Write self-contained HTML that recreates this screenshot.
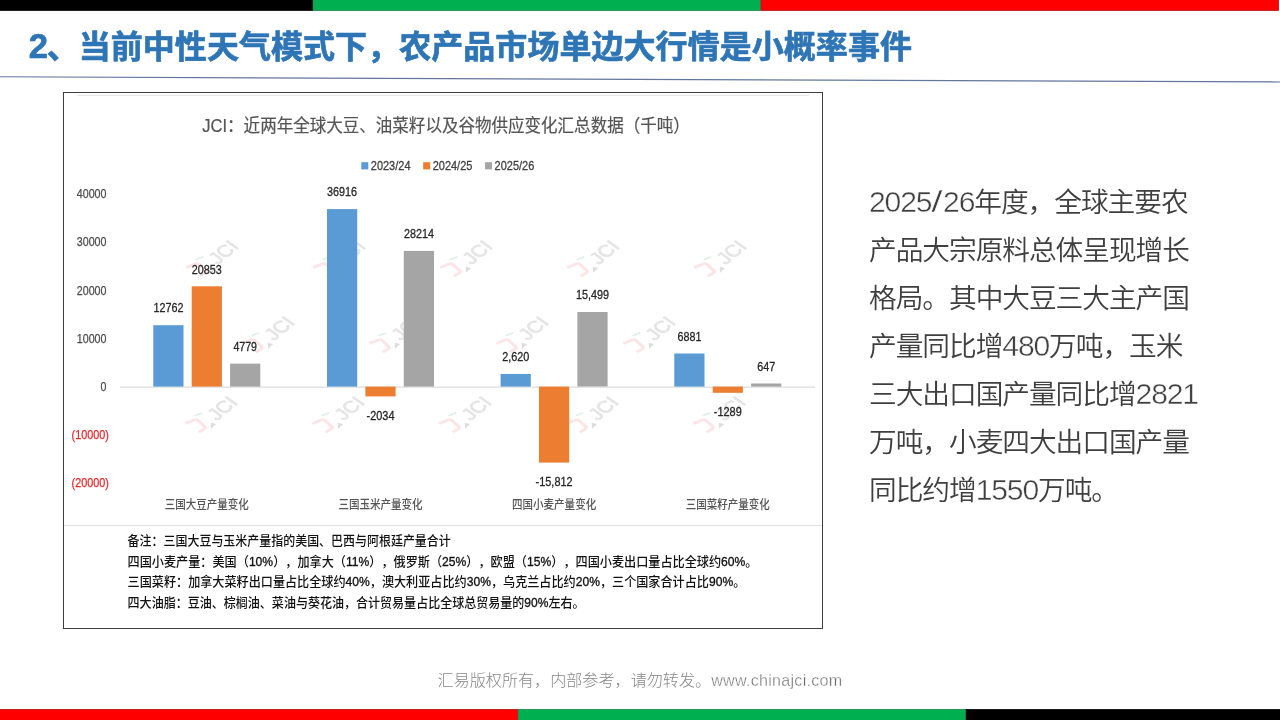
<!DOCTYPE html>
<html lang="zh-CN">
<head>
<meta charset="utf-8">
<title>2、当前中性天气模式下，农产品市场单边大行情是小概率事件</title>
<style>
*{margin:0;padding:0;box-sizing:border-box}
html,body{width:1280px;height:720px;overflow:hidden;background:#fff}
body{position:relative;font-family:"Liberation Sans","Noto Sans CJK SC",sans-serif;color:#404040}
h1{position:absolute;left:28.8px;top:23.2px;-webkit-text-stroke:0.7px #2e75b6;height:48px;line-height:48px;font-size:32px;font-weight:bold;color:#2e75b6;white-space:nowrap;letter-spacing:0.05px}
h1 span{font-size:34.6px;letter-spacing:-1.4px;line-height:0}
#rule{position:absolute;left:0;top:0;width:1280px;height:720px}
#chart{position:absolute;left:63px;top:92px;width:760px;height:537px;border:1px solid #3f3f3f;background:#fff}
#chart svg{position:absolute;left:-1px;top:-1px}
#chart text{text-spacing-trim:space-all;white-space:pre}
#body{font-weight:350;position:absolute;left:869px;top:179.4px;width:400px;font-size:27.7px;letter-spacing:-1.03px;line-height:48px;color:#3f3f3f}
#body p{white-space:nowrap;height:48px}
#body .n,#body .sl{color:#3f3f3f;-webkit-text-stroke:0.45px #fff}
#body .n{font-size:30.1px;letter-spacing:-1.14px;line-height:0}
#body .sl{display:inline-block;width:11.7px;text-align:center;font-size:30.1px;letter-spacing:0;line-height:0;transform:scaleX(1.35)}
#foot{position:absolute;left:0;top:669.2px;width:1280px;text-align:center;font-size:16.1px;line-height:22px;color:#888;font-weight:300;white-space:nowrap}
#foot span{letter-spacing:0.27px;color:#6c6c6c;-webkit-text-stroke:0.35px #fff}
</style>
</head>
<body>
<h1><span>2</span>、当前中性天气模式下，农产品市场单边大行情是小概率事件</h1>
<svg id="rule" width="1280" height="720" viewBox="0 0 1280 720">
<rect x="-2" y="-2" width="314.8" height="12.4" fill="#000" stroke="#000" stroke-width="0.8"/>
<rect x="313.2" y="-2" width="447.2" height="12.4" fill="#00b050" stroke="#14854a" stroke-width="0.8"/>
<rect x="761" y="-2" width="517.5" height="12.4" fill="#ff0000" stroke="#c00a0a" stroke-width="0.8"/>
<line x1="0" y1="76.75" x2="1280" y2="82.0" stroke="#64769c" stroke-width="1.2"/>
<rect x="-2" y="709.5" width="519.8" height="13" fill="#ff0000" stroke="#c00a0a" stroke-width="0.8"/>
<rect x="518.4" y="709.5" width="447.4" height="13" fill="#00b050" stroke="#14854a" stroke-width="0.8"/>
<rect x="966.2" y="709.5" width="316" height="13" fill="#000" stroke="#000" stroke-width="0.8"/>
</svg>
<div id="chart">
<svg width="760" height="537" viewBox="63 92 760 537" font-family='"Liberation Sans","Noto Sans CJK SC",sans-serif'>
<!--CHART-->
<line x1="77" y1="95.4" x2="809" y2="95.4" stroke="#e6e6e6" stroke-width="1"/>
<g transform="translate(212.0 259.0) scale(1.15 0.87) rotate(-47)"><path d="M-22.6 -9.6 L-14.2 -6.8 Q-12 -6 -12.3 -3.8 L-13.3 4.4 Q-13.6 6.8 -15.8 6.6 L-21.8 5.8" fill="none" stroke="#fce5e7" stroke-width="3.1" stroke-linejoin="round"/><path d="M-10.2 -9.8 L-3.2 -7.4" stroke="#dff2e8" stroke-width="2"/><path d="M-11.5 10.8 L-4.6 10.4 L-6.6 5.8 z" fill="#dddddd"/><text x="-1.9" y="8.5" font-size="19" fill="#e5e5e5" stroke="#e5e5e5" stroke-width="0.7">JCI</text></g>
<g transform="translate(339.0 259.0) scale(1.15 0.87) rotate(-47)"><path d="M-22.6 -9.6 L-14.2 -6.8 Q-12 -6 -12.3 -3.8 L-13.3 4.4 Q-13.6 6.8 -15.8 6.6 L-21.8 5.8" fill="none" stroke="#fce5e7" stroke-width="3.1" stroke-linejoin="round"/><path d="M-10.2 -9.8 L-3.2 -7.4" stroke="#dff2e8" stroke-width="2"/><path d="M-11.5 10.8 L-4.6 10.4 L-6.6 5.8 z" fill="#dddddd"/><text x="-1.9" y="8.5" font-size="19" fill="#e5e5e5" stroke="#e5e5e5" stroke-width="0.7">JCI</text></g>
<g transform="translate(466.0 259.0) scale(1.15 0.87) rotate(-47)"><path d="M-22.6 -9.6 L-14.2 -6.8 Q-12 -6 -12.3 -3.8 L-13.3 4.4 Q-13.6 6.8 -15.8 6.6 L-21.8 5.8" fill="none" stroke="#fce5e7" stroke-width="3.1" stroke-linejoin="round"/><path d="M-10.2 -9.8 L-3.2 -7.4" stroke="#dff2e8" stroke-width="2"/><path d="M-11.5 10.8 L-4.6 10.4 L-6.6 5.8 z" fill="#dddddd"/><text x="-1.9" y="8.5" font-size="19" fill="#e5e5e5" stroke="#e5e5e5" stroke-width="0.7">JCI</text></g>
<g transform="translate(593.0 259.0) scale(1.15 0.87) rotate(-47)"><path d="M-22.6 -9.6 L-14.2 -6.8 Q-12 -6 -12.3 -3.8 L-13.3 4.4 Q-13.6 6.8 -15.8 6.6 L-21.8 5.8" fill="none" stroke="#fce5e7" stroke-width="3.1" stroke-linejoin="round"/><path d="M-10.2 -9.8 L-3.2 -7.4" stroke="#dff2e8" stroke-width="2"/><path d="M-11.5 10.8 L-4.6 10.4 L-6.6 5.8 z" fill="#dddddd"/><text x="-1.9" y="8.5" font-size="19" fill="#e5e5e5" stroke="#e5e5e5" stroke-width="0.7">JCI</text></g>
<g transform="translate(720.0 259.0) scale(1.15 0.87) rotate(-47)"><path d="M-22.6 -9.6 L-14.2 -6.8 Q-12 -6 -12.3 -3.8 L-13.3 4.4 Q-13.6 6.8 -15.8 6.6 L-21.8 5.8" fill="none" stroke="#fce5e7" stroke-width="3.1" stroke-linejoin="round"/><path d="M-10.2 -9.8 L-3.2 -7.4" stroke="#dff2e8" stroke-width="2"/><path d="M-11.5 10.8 L-4.6 10.4 L-6.6 5.8 z" fill="#dddddd"/><text x="-1.9" y="8.5" font-size="19" fill="#e5e5e5" stroke="#e5e5e5" stroke-width="0.7">JCI</text></g>
<g transform="translate(268.0 335.0) scale(1.15 0.87) rotate(-47)"><path d="M-22.6 -9.6 L-14.2 -6.8 Q-12 -6 -12.3 -3.8 L-13.3 4.4 Q-13.6 6.8 -15.8 6.6 L-21.8 5.8" fill="none" stroke="#fce5e7" stroke-width="3.1" stroke-linejoin="round"/><path d="M-10.2 -9.8 L-3.2 -7.4" stroke="#dff2e8" stroke-width="2"/><path d="M-11.5 10.8 L-4.6 10.4 L-6.6 5.8 z" fill="#dddddd"/><text x="-1.9" y="8.5" font-size="19" fill="#e5e5e5" stroke="#e5e5e5" stroke-width="0.7">JCI</text></g>
<g transform="translate(395.0 335.0) scale(1.15 0.87) rotate(-47)"><path d="M-22.6 -9.6 L-14.2 -6.8 Q-12 -6 -12.3 -3.8 L-13.3 4.4 Q-13.6 6.8 -15.8 6.6 L-21.8 5.8" fill="none" stroke="#fce5e7" stroke-width="3.1" stroke-linejoin="round"/><path d="M-10.2 -9.8 L-3.2 -7.4" stroke="#dff2e8" stroke-width="2"/><path d="M-11.5 10.8 L-4.6 10.4 L-6.6 5.8 z" fill="#dddddd"/><text x="-1.9" y="8.5" font-size="19" fill="#e5e5e5" stroke="#e5e5e5" stroke-width="0.7">JCI</text></g>
<g transform="translate(522.0 335.0) scale(1.15 0.87) rotate(-47)"><path d="M-22.6 -9.6 L-14.2 -6.8 Q-12 -6 -12.3 -3.8 L-13.3 4.4 Q-13.6 6.8 -15.8 6.6 L-21.8 5.8" fill="none" stroke="#fce5e7" stroke-width="3.1" stroke-linejoin="round"/><path d="M-10.2 -9.8 L-3.2 -7.4" stroke="#dff2e8" stroke-width="2"/><path d="M-11.5 10.8 L-4.6 10.4 L-6.6 5.8 z" fill="#dddddd"/><text x="-1.9" y="8.5" font-size="19" fill="#e5e5e5" stroke="#e5e5e5" stroke-width="0.7">JCI</text></g>
<g transform="translate(649.0 335.0) scale(1.15 0.87) rotate(-47)"><path d="M-22.6 -9.6 L-14.2 -6.8 Q-12 -6 -12.3 -3.8 L-13.3 4.4 Q-13.6 6.8 -15.8 6.6 L-21.8 5.8" fill="none" stroke="#fce5e7" stroke-width="3.1" stroke-linejoin="round"/><path d="M-10.2 -9.8 L-3.2 -7.4" stroke="#dff2e8" stroke-width="2"/><path d="M-11.5 10.8 L-4.6 10.4 L-6.6 5.8 z" fill="#dddddd"/><text x="-1.9" y="8.5" font-size="19" fill="#e5e5e5" stroke="#e5e5e5" stroke-width="0.7">JCI</text></g>
<g transform="translate(211.0 415.0) scale(1.15 0.87) rotate(-47)"><path d="M-22.6 -9.6 L-14.2 -6.8 Q-12 -6 -12.3 -3.8 L-13.3 4.4 Q-13.6 6.8 -15.8 6.6 L-21.8 5.8" fill="none" stroke="#fce5e7" stroke-width="3.1" stroke-linejoin="round"/><path d="M-10.2 -9.8 L-3.2 -7.4" stroke="#dff2e8" stroke-width="2"/><path d="M-11.5 10.8 L-4.6 10.4 L-6.6 5.8 z" fill="#dddddd"/><text x="-1.9" y="8.5" font-size="19" fill="#e5e5e5" stroke="#e5e5e5" stroke-width="0.7">JCI</text></g>
<g transform="translate(338.0 415.0) scale(1.15 0.87) rotate(-47)"><path d="M-22.6 -9.6 L-14.2 -6.8 Q-12 -6 -12.3 -3.8 L-13.3 4.4 Q-13.6 6.8 -15.8 6.6 L-21.8 5.8" fill="none" stroke="#fce5e7" stroke-width="3.1" stroke-linejoin="round"/><path d="M-10.2 -9.8 L-3.2 -7.4" stroke="#dff2e8" stroke-width="2"/><path d="M-11.5 10.8 L-4.6 10.4 L-6.6 5.8 z" fill="#dddddd"/><text x="-1.9" y="8.5" font-size="19" fill="#e5e5e5" stroke="#e5e5e5" stroke-width="0.7">JCI</text></g>
<g transform="translate(465.0 415.0) scale(1.15 0.87) rotate(-47)"><path d="M-22.6 -9.6 L-14.2 -6.8 Q-12 -6 -12.3 -3.8 L-13.3 4.4 Q-13.6 6.8 -15.8 6.6 L-21.8 5.8" fill="none" stroke="#fce5e7" stroke-width="3.1" stroke-linejoin="round"/><path d="M-10.2 -9.8 L-3.2 -7.4" stroke="#dff2e8" stroke-width="2"/><path d="M-11.5 10.8 L-4.6 10.4 L-6.6 5.8 z" fill="#dddddd"/><text x="-1.9" y="8.5" font-size="19" fill="#e5e5e5" stroke="#e5e5e5" stroke-width="0.7">JCI</text></g>
<g transform="translate(592.0 415.0) scale(1.15 0.87) rotate(-47)"><path d="M-22.6 -9.6 L-14.2 -6.8 Q-12 -6 -12.3 -3.8 L-13.3 4.4 Q-13.6 6.8 -15.8 6.6 L-21.8 5.8" fill="none" stroke="#fce5e7" stroke-width="3.1" stroke-linejoin="round"/><path d="M-10.2 -9.8 L-3.2 -7.4" stroke="#dff2e8" stroke-width="2"/><path d="M-11.5 10.8 L-4.6 10.4 L-6.6 5.8 z" fill="#dddddd"/><text x="-1.9" y="8.5" font-size="19" fill="#e5e5e5" stroke="#e5e5e5" stroke-width="0.7">JCI</text></g>
<g transform="translate(719.0 415.0) scale(1.15 0.87) rotate(-47)"><path d="M-22.6 -9.6 L-14.2 -6.8 Q-12 -6 -12.3 -3.8 L-13.3 4.4 Q-13.6 6.8 -15.8 6.6 L-21.8 5.8" fill="none" stroke="#fce5e7" stroke-width="3.1" stroke-linejoin="round"/><path d="M-10.2 -9.8 L-3.2 -7.4" stroke="#dff2e8" stroke-width="2"/><path d="M-11.5 10.8 L-4.6 10.4 L-6.6 5.8 z" fill="#dddddd"/><text x="-1.9" y="8.5" font-size="19" fill="#e5e5e5" stroke="#e5e5e5" stroke-width="0.7">JCI</text></g>
<text x="202.3" y="131.5" font-size="18" fill="#555" textLength="487.5" lengthAdjust="spacingAndGlyphs" stroke="#555" stroke-width="0.2">JCI：近两年全球大豆、油菜籽以及谷物供应变化汇总数据（千吨）</text>
<rect x="361.3" y="162.2" width="7" height="7.2" fill="#5b9bd5"/>
<text x="370.8" y="170.0" font-size="13.2" fill="#404040" textLength="39.7" lengthAdjust="spacingAndGlyphs" stroke="#404040" stroke-width="0.3">2023/24</text>
<rect x="423.2" y="162.2" width="7" height="7.2" fill="#ed7d31"/>
<text x="432.7" y="170.0" font-size="13.2" fill="#404040" textLength="39.7" lengthAdjust="spacingAndGlyphs" stroke="#404040" stroke-width="0.3">2024/25</text>
<rect x="485.1" y="162.2" width="7" height="7.2" fill="#a5a5a5"/>
<text x="494.6" y="170.0" font-size="13.2" fill="#404040" textLength="39.7" lengthAdjust="spacingAndGlyphs" stroke="#404040" stroke-width="0.3">2025/26</text>
<text x="76.8" y="197.7" font-size="12.5" fill="#4d4d4d" textLength="29.7" lengthAdjust="spacingAndGlyphs" stroke="#4d4d4d" stroke-width="0.25">40000</text>
<text x="76.8" y="246.1" font-size="12.5" fill="#4d4d4d" textLength="29.7" lengthAdjust="spacingAndGlyphs" stroke="#4d4d4d" stroke-width="0.25">30000</text>
<text x="76.8" y="294.5" font-size="12.5" fill="#4d4d4d" textLength="29.7" lengthAdjust="spacingAndGlyphs" stroke="#4d4d4d" stroke-width="0.25">20000</text>
<text x="76.8" y="342.9" font-size="12.5" fill="#4d4d4d" textLength="29.7" lengthAdjust="spacingAndGlyphs" stroke="#4d4d4d" stroke-width="0.25">10000</text>
<text x="100.6" y="391.3" font-size="12.5" fill="#4d4d4d" textLength="5.9" lengthAdjust="spacingAndGlyphs" stroke="#4d4d4d" stroke-width="0.25">0</text>
<text x="71.6" y="439.0" font-size="12.5" fill="#e8262a" textLength="37.3" lengthAdjust="spacingAndGlyphs" stroke="#e8262a" stroke-width="0.25">(10000)</text>
<text x="71.6" y="487.2" font-size="12.5" fill="#e8262a" textLength="37.3" lengthAdjust="spacingAndGlyphs" stroke="#e8262a" stroke-width="0.25">(20000)</text>
<line x1="120" y1="387.1" x2="815" y2="387.1" stroke="#dcdcdc" stroke-width="1.2"/>
<rect x="153.3" y="325.2" width="30.2" height="61.4" fill="#5b9bd5"/>
<text x="153.4" y="312.4" font-size="13" fill="#262626" textLength="30.0" lengthAdjust="spacingAndGlyphs" stroke="#262626" stroke-width="0.3">12762</text>
<rect x="191.7" y="286.3" width="30.2" height="100.3" fill="#ed7d31"/>
<text x="191.8" y="273.5" font-size="13" fill="#262626" textLength="30.0" lengthAdjust="spacingAndGlyphs" stroke="#262626" stroke-width="0.3">20853</text>
<rect x="230.1" y="363.6" width="30.2" height="23.0" fill="#a5a5a5"/>
<text x="233.4" y="350.7" font-size="13" fill="#262626" textLength="23.6" lengthAdjust="spacingAndGlyphs" stroke="#262626" stroke-width="0.3">4779</text>
<text x="164.7" y="509.2" font-size="12.3" fill="#555" textLength="84.2" lengthAdjust="spacingAndGlyphs" font-weight="500">三国大豆产量变化</text>
<rect x="327.0" y="209.1" width="30.2" height="177.5" fill="#5b9bd5"/>
<text x="327.1" y="196.2" font-size="13" fill="#262626" textLength="30.0" lengthAdjust="spacingAndGlyphs" stroke="#262626" stroke-width="0.3">36916</text>
<rect x="365.4" y="386.6" width="30.2" height="9.8" fill="#ed7d31"/>
<text x="366.5" y="419.7" font-size="13" fill="#262626" textLength="28.0" lengthAdjust="spacingAndGlyphs" stroke="#262626" stroke-width="0.3">-2034</text>
<rect x="403.8" y="250.9" width="30.2" height="135.7" fill="#a5a5a5"/>
<text x="403.9" y="238.1" font-size="13" fill="#262626" textLength="30.0" lengthAdjust="spacingAndGlyphs" stroke="#262626" stroke-width="0.3">28214</text>
<text x="338.4" y="509.2" font-size="12.3" fill="#555" textLength="84.2" lengthAdjust="spacingAndGlyphs" font-weight="500">三国玉米产量变化</text>
<rect x="500.6" y="374.0" width="30.2" height="12.6" fill="#5b9bd5"/>
<text x="502.2" y="361.1" font-size="13" fill="#262626" textLength="27.1" lengthAdjust="spacingAndGlyphs" stroke="#262626" stroke-width="0.3">2,620</text>
<rect x="539.0" y="386.6" width="30.2" height="76.0" fill="#ed7d31"/>
<text x="535.6" y="486.0" font-size="13" fill="#262626" textLength="37.0" lengthAdjust="spacingAndGlyphs" stroke="#262626" stroke-width="0.3">-15,812</text>
<rect x="577.4" y="312.0" width="30.2" height="74.5" fill="#a5a5a5"/>
<text x="575.9" y="299.2" font-size="13" fill="#262626" textLength="33.2" lengthAdjust="spacingAndGlyphs" stroke="#262626" stroke-width="0.3">15,499</text>
<text x="512.0" y="509.2" font-size="12.3" fill="#555" textLength="84.2" lengthAdjust="spacingAndGlyphs" font-weight="500">四国小麦产量变化</text>
<rect x="674.3" y="353.5" width="30.2" height="33.1" fill="#5b9bd5"/>
<text x="677.5" y="340.6" font-size="13" fill="#262626" textLength="23.9" lengthAdjust="spacingAndGlyphs" stroke="#262626" stroke-width="0.3">6881</text>
<rect x="712.7" y="386.6" width="30.2" height="6.2" fill="#ed7d31"/>
<text x="713.8" y="416.1" font-size="13" fill="#262626" textLength="28.0" lengthAdjust="spacingAndGlyphs" stroke="#262626" stroke-width="0.3">-1289</text>
<rect x="751.1" y="383.5" width="30.2" height="3.1" fill="#a5a5a5"/>
<text x="757.2" y="370.6" font-size="13" fill="#262626" textLength="18.0" lengthAdjust="spacingAndGlyphs" stroke="#262626" stroke-width="0.3">647</text>
<text x="685.7" y="509.2" font-size="12.3" fill="#555" textLength="84.2" lengthAdjust="spacingAndGlyphs" font-weight="500">三国菜籽产量变化</text>
<line x1="64" y1="525.5" x2="822" y2="525.5" stroke="#e0e0e0" stroke-width="1"/>
<text x="127.6" y="544.8" font-size="13" fill="#111" textLength="323.2" lengthAdjust="spacingAndGlyphs" font-weight="500">备注：三国大豆与玉米产量指的美国、巴西与阿根廷产量合计</text>
<text x="127.6" y="565.6" font-size="13" fill="#111" textLength="629.9" lengthAdjust="spacingAndGlyphs" font-weight="500">四国小麦产量：美国（<tspan stroke="#111" stroke-width="0.35">10%</tspan>），加拿大（<tspan stroke="#111" stroke-width="0.35">11%</tspan>），俄罗斯（<tspan stroke="#111" stroke-width="0.35">25%</tspan>），欧盟（<tspan stroke="#111" stroke-width="0.35">15%</tspan>），四国小麦出口量占比全球约<tspan stroke="#111" stroke-width="0.35">60%</tspan>。</text>
<text x="127.6" y="586.3" font-size="13" fill="#111" textLength="617.7" lengthAdjust="spacingAndGlyphs" font-weight="500">三国菜籽：加拿大菜籽出口量占比全球约<tspan stroke="#111" stroke-width="0.35">40%</tspan>，澳大利亚占比约<tspan stroke="#111" stroke-width="0.35">30%</tspan>，乌克兰占比约<tspan stroke="#111" stroke-width="0.35">20%</tspan>，三个国家合计占比<tspan stroke="#111" stroke-width="0.35">90%</tspan>。</text>
<text x="127.6" y="607.0" font-size="13" fill="#111" textLength="456.9" lengthAdjust="spacingAndGlyphs" font-weight="500">四大油脂：豆油、棕榈油、菜油与葵花油，合计贸易量占比全球总贸易量的<tspan stroke="#111" stroke-width="0.35">90%</tspan>左右。</text>
<!--/CHART-->
</svg>
</div>
<div id="body">
<p><span class="n">2025</span><span class="sl">/</span><span class="n">26</span>年度，全球主要农</p>
<p>产品大宗原料总体呈现增长</p>
<p>格局。其中大豆三大主产国</p>
<p>产量同比增<span class="n">480</span>万吨，玉米</p>
<p>三大出口国产量同比增<span class="n">2821</span></p>
<p>万吨，小麦四大出口国产量</p>
<p>同比约增<span class="n">1550</span>万吨。</p>
</div>
<div id="foot">汇易版权所有，内部参考，请勿转发。<span>www.chinajci.com</span></div>
</body>
</html>
